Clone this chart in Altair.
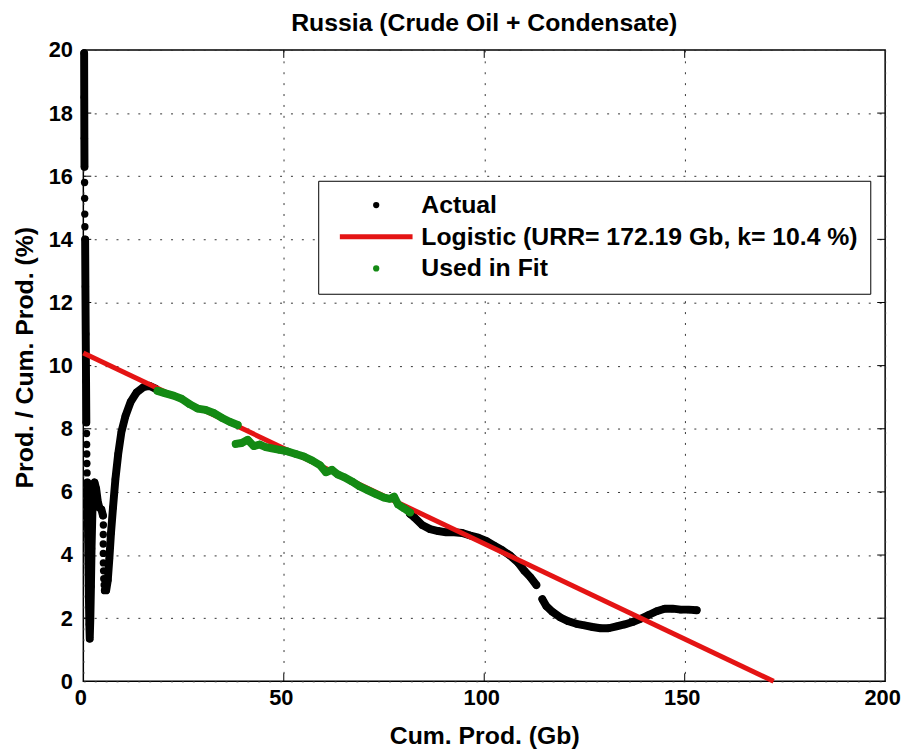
import altair as alt
import pandas as pd

TITLE = "Russia (Crude Oil + Condensate)"
X_TITLE = "Cum. Prod. (Gb)"
Y_TITLE = "Prod. / Cum. Prod. (%)"
SERIES = ["Actual", "Logistic (URR= 172.19 Gb, k= 10.4 %)", "Used in Fit"]
COLORS = ["#000000", "#e41414", "#148a14"]
SHAPES = ["circle", "M-11.6,-0.82H11.6V0.82H-11.6Z", "circle"]

URR = 172.19
K = 10.4
fit_x = [0.0, URR]
fit_y = [K, 0.0]

x_ticks = [0, 50, 100, 150, 200]
y_ticks = [0, 2, 4, 6, 8, 10, 12, 14, 16, 18, 20]
x_inner = [50, 100, 150]
y_inner = [2, 4, 6, 8, 10, 12, 14, 16, 18]

# Actual (chronological). seg = connected dense run, -1 = isolated dot
actual_x = [0.20, 0.23, 0.26, 0.29,
            0.31, 0.33, 0.36, 0.39,
            0.45, 0.52, 0.60, 0.68, 0.75,
            0.80, 0.83, 0.86, 0.89, 0.93,
            1.00, 1.10, 1.20, 1.30, 1.40, 1.50, 1.60, 1.75, 1.90, 2.05, 2.25, 2.50, 2.80, 3.20, 3.60, 4.00, 4.50, 4.90,
            5.00, 4.98, 4.97, 4.98, 5.00, 5.05, 5.10, 5.20,
            5.35, 5.70, 6.10, 6.50, 6.90, 7.40, 8.00, 8.70, 9.50, 10.5, 11.8, 13.3, 15.0, 16.5, 18.0,
            81.5, 82.5, 84.5, 86.5, 88.5, 90.5, 92.5, 94.5, 96.5, 98.5, 100.5, 102.5, 104.5, 106.5, 108.5, 110.0, 111.5, 113.0,
            114.5, 115.5, 117.0, 119.0, 121.0, 123.0, 125.0, 127.0, 129.0, 131.0, 133.0, 135.0, 137.0, 139.0, 141.0, 143.0, 145.0, 147.0, 149.0, 151.0, 153.0]
actual_y = [19.9, 18.5, 17.2, 16.3,
            15.8, 15.3, 14.8, 14.4,
            14.0, 12.5, 11.0, 9.5, 8.2,
            7.85, 7.5, 7.2, 6.9, 6.6,
            6.3, 5.4, 4.6, 3.6, 2.6, 1.8, 1.35, 2.0, 3.0, 4.2, 5.3, 6.2, 6.3, 6.1, 5.7, 5.5, 5.45, 5.25,
            4.95, 4.65, 4.35, 4.05, 3.75, 3.5, 3.25, 3.05,
            2.88, 2.88, 3.2, 3.9, 4.7, 5.5, 6.4, 7.2, 7.9, 8.4, 8.85, 9.15, 9.32, 9.36, 9.27,
            5.3, 5.2, 4.95, 4.82, 4.76, 4.72, 4.72, 4.70, 4.62, 4.55, 4.45, 4.30, 4.15, 3.98, 3.75, 3.50, 3.30, 3.05,
            2.60, 2.38, 2.20, 2.02, 1.90, 1.82, 1.77, 1.72, 1.68, 1.68, 1.74, 1.80, 1.88, 1.98, 2.10, 2.22, 2.30, 2.30, 2.27, 2.27, 2.25]
actual_seg = [0] * 4 + [-1] * 4 + [1] * 5 + [-1] * 5 + [2] * 18 + [-1] * 8 + [3] * 15 + [4] * 18 + [5] * 21

# Used in fit (chronological)
used_x = [18.5, 20.5, 22.5, 24.5, 26.5, 28.5, 30.5, 32.5, 34.5, 36.5, 38.5,
          38.0, 39.5, 41.0, 42.5, 44.0, 45.5, 47.0, 49.0, 51.0, 53.0, 55.0, 57.0, 59.0, 60.5, 62.0, 63.5,
          65.0, 67.0, 69.0, 71.0, 73.0, 75.0, 76.5, 77.5, 78.5, 80.0, 81.5]
used_y = [9.20, 9.12, 9.05, 8.95, 8.78, 8.64, 8.60, 8.50, 8.35, 8.22, 8.12,
          7.52, 7.55, 7.65, 7.45, 7.50, 7.42, 7.38, 7.33, 7.28, 7.20, 7.12, 7.00, 6.85, 6.62, 6.70, 6.55,
          6.47, 6.33, 6.17, 6.05, 5.93, 5.82, 5.78, 5.85, 5.60, 5.48, 5.35]
used_seg = [0] * 11 + [1] * 27

FONT = "Liberation Sans"

act = pd.DataFrame({"x": actual_x, "y": actual_y, "seg": actual_seg})
act["i"] = range(len(act))
act["series"] = SERIES[0]
used = pd.DataFrame({"x": used_x, "y": used_y, "seg": used_seg})
used["i"] = range(len(used))
used["series"] = SERIES[2]
fit = pd.DataFrame({"x": fit_x, "y": fit_y})

xs = alt.Scale(domain=[0, 200], nice=False, zero=False)
ys = alt.Scale(domain=[0, 20], nice=False, zero=False)

x_axis = alt.Axis(values=x_ticks, title=X_TITLE, format="d", grid=True, gridDash=[2, 9],
                  gridColor="#333333", gridWidth=1, ticks=False, domain=False,
                  labelFont=FONT, labelFontSize=22, labelFontWeight="bold", labelColor="black",
                  labelPadding=6, labelFlush=False, labelOffset=-3,
                  titleFont=FONT, titleFontSize=25, titleFontWeight="bold", titleColor="black",
                  titleY=55, titleBaseline="middle")
y_axis = alt.Axis(values=y_ticks, title=Y_TITLE, format="d", grid=True, gridDash=[2, 9],
                  gridColor="#333333", gridWidth=1, ticks=False, domain=False,
                  labelFont=FONT, labelFontSize=22, labelFontWeight="bold", labelColor="black",
                  labelPadding=11, labelFlush=False,
                  titleFont=FONT, titleFontSize=25, titleFontWeight="bold", titleColor="black",
                  titleX=-59, titleY=310, titleBaseline="middle")

X = alt.X("x:Q", scale=xs, axis=x_axis)
Y = alt.Y("y:Q", scale=ys, axis=y_axis)

legend = alt.Legend(
    title=None, orient="none", legendX=237, legendY=132,
    strokeColor="black", fillColor="white", padding=12,
    labelFont=FONT, labelFontSize=25, labelFontWeight="bold", labelColor="black", labelLimit=0,
    symbolSize=40, symbolStrokeWidth=0, symbolOffset=34, labelOffset=33, rowPadding=6,
)
color = alt.Color("series:N", scale=alt.Scale(domain=SERIES, range=COLORS), legend=legend)
shape = alt.Shape("series:N", scale=alt.Scale(domain=SERIES, range=SHAPES), legend=legend)

act_line = alt.Chart(act[act["seg"] >= 0]).mark_line(
    color="black", strokeWidth=8, strokeCap="round", strokeJoin="round"
).encode(x=X, y=Y, detail="seg:N", order="i:Q")
act_pts = alt.Chart(act).mark_point(filled=True, size=55, opacity=1).encode(
    x=X, y=Y, color=color, shape=shape)

fit_line = alt.Chart(fit).mark_line(color=COLORS[1], strokeWidth=5).encode(x=X, y=Y)

used_line = alt.Chart(used).mark_line(
    color=COLORS[2], strokeWidth=8, strokeCap="round", strokeJoin="round"
).encode(x=X, y=Y, detail="seg:N", order="i:Q")
used_pts = alt.Chart(used).mark_point(filled=True, size=55, opacity=1).encode(
    x=X, y=Y, color=color, shape=shape)

xt = pd.DataFrame({"v": x_inner})
yt = pd.DataFrame({"v": y_inner})
tick_top = alt.Chart(xt).mark_rule(color="black", strokeWidth=1).encode(
    x=alt.X("v:Q", scale=xs), y=alt.value(0), y2=alt.value(8))
tick_bot = alt.Chart(xt).mark_rule(color="black", strokeWidth=1).encode(
    x=alt.X("v:Q", scale=xs), y=alt.value(637), y2=alt.value(629))
tick_left = alt.Chart(yt).mark_rule(color="black", strokeWidth=1).encode(
    y=alt.Y("v:Q", scale=ys), x=alt.value(0), x2=alt.value(8))
tick_right = alt.Chart(yt).mark_rule(color="black", strokeWidth=1).encode(
    y=alt.Y("v:Q", scale=ys), x=alt.value(809), x2=alt.value(801))

chart = alt.layer(
    tick_top, tick_bot, tick_left, tick_right,
    act_line, act_pts, fit_line, used_line, used_pts
).properties(
    width=809, height=637,
    title=alt.TitleParams(TITLE, font=FONT, fontSize=25, fontWeight="bold", color="black",
                          anchor="middle", offset=3, frame="group"),
    autosize=alt.AutoSizeParams(type="none"),
    padding={"left": 76, "top": 39, "right": 16, "bottom": 66},
).configure_view(stroke="black", strokeWidth=1.5)

chart.save("out.html", embed_options={"renderer": "svg", "actions": False})
